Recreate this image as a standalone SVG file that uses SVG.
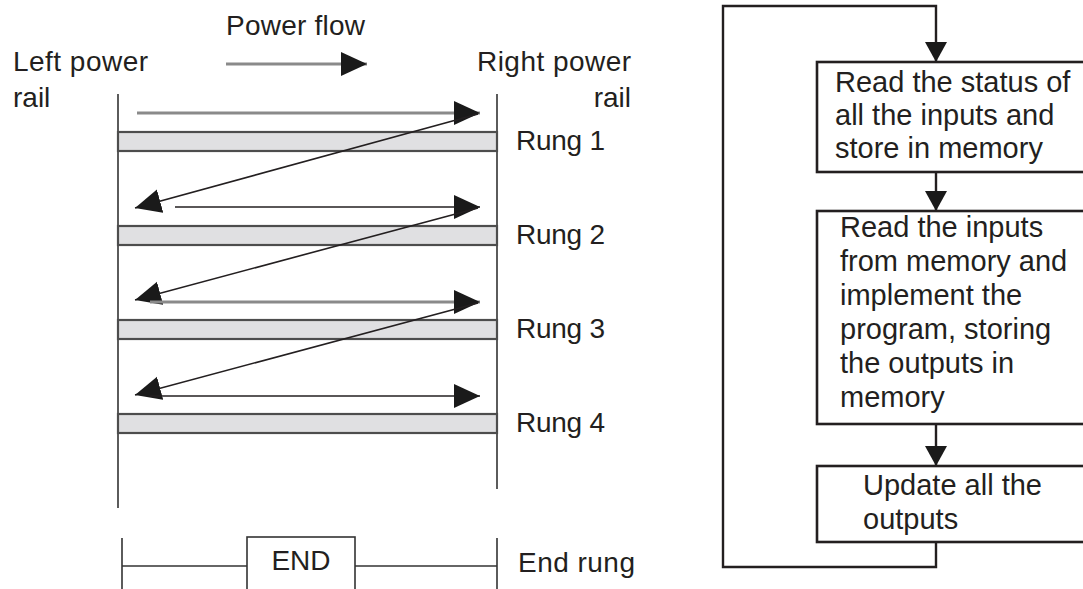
<svg xmlns="http://www.w3.org/2000/svg" width="1083" height="589" viewBox="0 0 1083 589">
<style>
text{font-family:"Liberation Sans",Arial,sans-serif;fill:#231f20}
.lbl{font-size:28px}
.fc{font-size:29px}
.rail{stroke:#333;stroke-width:1.6;fill:none}
.band{fill:#e0e0e2;stroke:#4d4d4d;stroke-width:2.2}
.box{fill:#fff;stroke:#231f20;stroke-width:2.6}
.thin{stroke:#231f20;stroke-width:1.6;fill:none}
.grey{stroke:#8a8a8a;stroke-width:3;fill:none}
.flow{stroke:#231f20;stroke-width:2.4;fill:none}
</style>
<defs>
<marker id="ah" markerUnits="userSpaceOnUse" markerWidth="28" markerHeight="26" refX="26" refY="12" orient="auto"><path d="M0,0 L26,12 L0,24 Z" fill="#1a1a1a"/></marker>
<marker id="fh" markerUnits="userSpaceOnUse" markerWidth="22" markerHeight="24" refX="20" refY="11" orient="auto"><path d="M0,0 L20,11 L0,22 Z" fill="#1a1a1a"/></marker>
</defs>
<rect width="1083" height="589" fill="#fff"/>

<g id="labels">
<text class="lbl" x="226" y="35" textLength="139">Power flow</text>
<text class="lbl" x="13" y="71" textLength="135">Left power</text>
<text class="lbl" x="13" y="107">rail</text>
<text class="lbl" x="477" y="71" textLength="154">Right power</text>
<text class="lbl" x="631" y="107" text-anchor="end">rail</text>
</g>

<g id="rails">
<line class="rail" x1="118" y1="94" x2="118" y2="508"/>
<line class="rail" x1="497" y1="94" x2="497" y2="489" stroke="#666"/>
</g>

<g id="rung1"><rect class="band" x="118" y="132" width="379" height="19"/><text class="lbl" x="516" y="150" textLength="89">Rung 1</text></g>
<g id="rung2"><rect class="band" x="118" y="226" width="379" height="19"/><text class="lbl" x="516" y="244" textLength="89">Rung 2</text></g>
<g id="rung3"><rect class="band" x="118" y="320" width="379" height="19"/><text class="lbl" x="516" y="338" textLength="89">Rung 3</text></g>
<g id="rung4"><rect class="band" x="118" y="414" width="379" height="19"/><text class="lbl" x="516" y="432" textLength="89">Rung 4</text></g>

<g id="end-rung">
<line class="rail" x1="122" y1="538" x2="122" y2="589"/>
<line class="rail" x1="497" y1="538" x2="497" y2="589" stroke="#555"/>
<line class="rail" x1="122" y1="566" x2="247" y2="566"/>
<line class="rail" x1="355" y1="566" x2="497" y2="566"/>
<rect x="247" y="537" width="108" height="70" fill="#fff" stroke="#333" stroke-width="1.6"/>
<text class="lbl" x="301" y="570" text-anchor="middle">END</text>
<text class="lbl" x="518" y="572" textLength="117">End rung</text>
</g>

<g id="ladder-arrows">
<line class="grey" x1="226" y1="64" x2="367" y2="64" marker-end="url(#ah)"/>
<line class="grey" x1="137" y1="113" x2="480" y2="113" marker-end="url(#ah)"/>
<line class="thin" x1="478" y1="114" x2="135" y2="208" marker-end="url(#ah)"/>
<line class="thin" x1="175" y1="207" x2="480" y2="207" marker-end="url(#ah)"/>
<line class="thin" x1="478" y1="208" x2="135" y2="300" marker-end="url(#ah)"/>
<line class="grey" x1="150" y1="302" x2="480" y2="302" stroke-width="2.6" marker-end="url(#ah)"/>
<line class="thin" x1="478" y1="303" x2="135" y2="395" marker-end="url(#ah)"/>
<line class="thin" x1="150" y1="396" x2="480" y2="396" stroke-width="2" marker-end="url(#ah)"/>
</g>

<g id="flow-connectors">
<path class="flow" d="M936,542 V567 H723 V6 H936 V62" marker-end="url(#fh)"/>
<path class="flow" d="M936,172 V211" marker-end="url(#fh)"/>
<path class="flow" d="M936,424 V466" marker-end="url(#fh)"/>
</g>

<g id="box-read-status">
<rect class="box" x="817" y="62" width="290" height="110"/>
<text class="fc" x="835" y="92">Read the status of</text>
<text class="fc" x="835" y="125">all the inputs and</text>
<text class="fc" x="835" y="158">store in memory</text>
</g>

<g id="box-program">
<rect class="box" x="817" y="211" width="290" height="213"/>
<text class="fc" x="840" y="237">Read the inputs</text>
<text class="fc" x="840" y="271">from memory and</text>
<text class="fc" x="840" y="305">implement the</text>
<text class="fc" x="840" y="339">program, storing</text>
<text class="fc" x="840" y="373">the outputs in</text>
<text class="fc" x="840" y="407">memory</text>
</g>

<g id="box-update">
<rect class="box" x="817" y="466" width="290" height="76"/>
<text class="fc" x="863" y="495">Update all the</text>
<text class="fc" x="863" y="529">outputs</text>
</g>
</svg>
